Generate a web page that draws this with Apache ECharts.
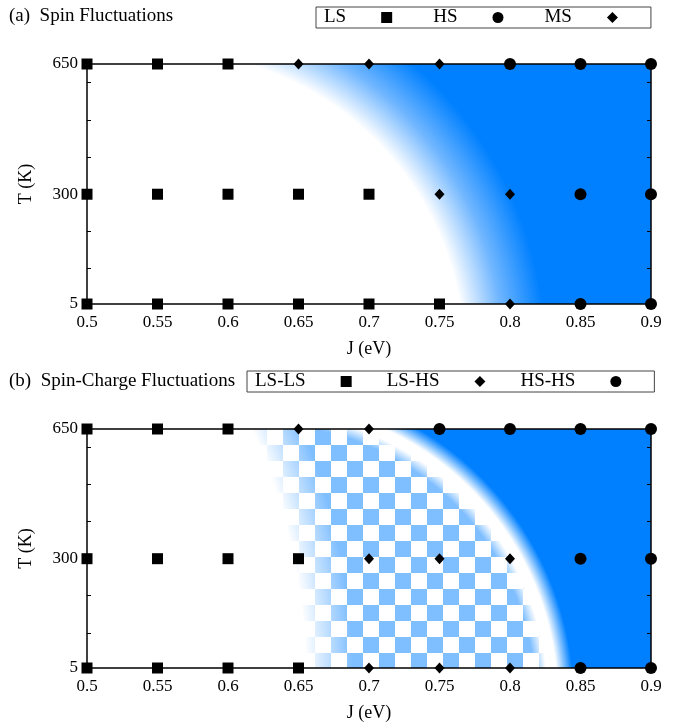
<!DOCTYPE html>
<html>
<head>
<meta charset="utf-8">
<script src="https://cdn.jsdelivr.net/npm/echarts@6.0.0/dist/echarts.min.js"></script>
<style>
  html, body { margin: 0; padding: 0; background: #fff; }
  #main { width: 678px; height: 728px; }
</style>
</head>
<body>
<div id="main"></div>
<script>
// axes
const jTicks = [0.5, 0.55, 0.6, 0.65, 0.7, 0.75, 0.8, 0.85, 0.9];
const tLabels = [5, 300, 650];
const tTicks = [100, 200, 300, 400, 500, 600];

// (a) spin fluctuations, [J, T]
const spinLS = [[0.5, 5], [0.55, 5], [0.6, 5], [0.65, 5], [0.7, 5], [0.75, 5],
  [0.5, 300], [0.55, 300], [0.6, 300], [0.65, 300], [0.7, 300],
  [0.5, 650], [0.55, 650], [0.6, 650]];
const spinHS = [[0.85, 5], [0.9, 5], [0.85, 300], [0.9, 300], [0.8, 650], [0.85, 650], [0.9, 650]];
const spinMS = [[0.8, 5], [0.75, 300], [0.8, 300], [0.65, 650], [0.7, 650], [0.75, 650]];

// (b) spin-charge fluctuations
const chargeLSLS = [[0.5, 5], [0.55, 5], [0.6, 5], [0.65, 5],
  [0.5, 300], [0.55, 300], [0.6, 300], [0.65, 300],
  [0.5, 650], [0.55, 650], [0.6, 650]];
const chargeLSHS = [[0.7, 5], [0.75, 5], [0.8, 5], [0.7, 300], [0.75, 300], [0.8, 300], [0.65, 650], [0.7, 650]];
const chargeHSHS = [[0.85, 5], [0.9, 5], [0.85, 300], [0.9, 300], [0.75, 650], [0.8, 650], [0.85, 650], [0.9, 650]];

// shaded phase regions: centre J, centre T, then edge radii (in J units)
const spinHSRegion = [0.5532, -129, 0.214, 0.242, 0.272];
const chargeHSRegion = [0.6227, -80, 0.1956, 0.2041, 0.2112, 0.2225];
const chargeLSRegion = [0.2035, -45, 0.452, 0.485];

const serif = 'Liberation Serif';
const blue = '#0080ff';
const chart = echarts.init(document.getElementById('main'));

// checkerboard tile, phase given in pixels
function checkerTile(ox, oy) {
  const s = 16, p = 2 * s;
  const c = document.createElement('canvas');
  c.width = c.height = p;
  const ctx = c.getContext('2d');
  ctx.fillStyle = '#80bfff';
  [[0, 0], [s, s]].forEach(function (d) {
    const x = (((ox + d[0]) % p) + p) % p;
    const y = (((oy + d[1]) % p) + p) % p;
    [0, -p].forEach(function (dx) {
      [0, -p].forEach(function (dy) { ctx.fillRect(x + dx, y + dy, s, s); });
    });
  });
  return c;
}

function radialRect(params, api, stops, z2) {
  const cs = params.coordSys;
  const c = api.coord([api.value(0), api.value(1)]);
  const rMax = api.size([api.value(stops.length + 1), 0])[0];
  return {
    type: 'rect', z2: z2,
    shape: { x: cs.x, y: cs.y, width: cs.width, height: cs.height },
    style: {
      fill: {
        type: 'radial', x: c[0], y: c[1], r: rMax, global: true,
        colorStops: stops.map(function (col, i) {
          return { offset: api.size([api.value(i + 2), 0])[0] / rMax, color: col };
        })
      }
    }
  };
}

function xAxes(gridIndex) {
  const line = { lineStyle: { color: '#000', width: 1.5 } };
  const tick = { inside: true, length: 4, customValues: jTicks, lineStyle: { color: '#000' } };
  return [{
    type: 'value', gridIndex: gridIndex, position: 'bottom', min: 0.5, max: 0.9, z: 4,
    name: 'J (eV)', nameLocation: 'middle', nameGap: 36,
    nameTextStyle: { fontFamily: serif, fontSize: 18, color: '#000' },
    axisLine: line, axisTick: tick, splitLine: { show: false },
    axisLabel: { customValues: jTicks, margin: 10, fontFamily: serif, fontSize: 17, color: '#000' }
  }, {
    type: 'value', gridIndex: gridIndex, position: 'top', min: 0.5, max: 0.9, z: 4,
    axisLine: line, axisTick: tick, splitLine: { show: false }, axisLabel: { show: false }
  }];
}

function yAxes(gridIndex) {
  const line = { lineStyle: { color: '#000', width: 1.5 } };
  const tick = { inside: true, length: 4, customValues: tTicks, lineStyle: { color: '#000' } };
  return [{
    type: 'value', gridIndex: gridIndex, position: 'left', min: 5, max: 650, z: 4,
    name: 'T (K)', nameLocation: 'middle', nameGap: 52,
    nameTextStyle: { fontFamily: serif, fontSize: 18, color: '#000' },
    axisLine: line, axisTick: tick, splitLine: { show: false },
    axisLabel: { customValues: tLabels, margin: 9, fontFamily: serif, fontSize: 17, color: '#000' }
  }, {
    type: 'value', gridIndex: gridIndex, position: 'right', min: 5, max: 650, z: 4,
    axisLine: line, axisTick: tick, splitLine: { show: false }, axisLabel: { show: false }
  }];
}

function marks(name, data, axis, symbol, size) {
  return {
    name: name, type: 'scatter', xAxisIndex: axis, yAxisIndex: axis, data: data,
    symbol: symbol, symbolSize: size, clip: false, silent: true, z: 5,
    itemStyle: { color: '#000', opacity: 1 }
  };
}

function legend(names, left, top, gap) {
  return {
    data: names, left: left, top: top, align: 'right', orient: 'horizontal',
    itemWidth: 11, itemHeight: 11, itemGap: gap,
    padding: [1, 33, 1, 8], borderColor: '#444', borderWidth: 1,
    textStyle: { fontFamily: serif, fontSize: 19, color: '#000', padding: [0, 30, 0, 0] },
    selectedMode: false
  };
}

const titleStyle = { fontFamily: serif, fontSize: 19, fontWeight: 'normal', color: '#000' };

chart.setOption({
  animation: false,
  title: [
    { text: '(a)  Spin Fluctuations', left: 9, top: 7, padding: 0, textStyle: titleStyle },
    { text: '(b)  Spin-Charge Fluctuations', left: 9, top: 372, padding: 0, textStyle: titleStyle }
  ],
  legend: [
    legend(['LS', 'HS', 'MS'], 316, 7, 41),
    legend(['LS-LS', 'LS-HS', 'HS-HS'], 247, 371, 35)
  ],
  grid: [
    { left: 87, top: 64, width: 564, height: 240 },
    { left: 87, top: 429, width: 564, height: 239 }
  ],
  xAxis: xAxes(0).concat(xAxes(1)),
  yAxis: yAxes(0).concat(yAxes(1)),
  series: [
    {
      type: 'custom', xAxisIndex: 0, yAxisIndex: 0, data: [spinHSRegion], z: 1, silent: true,
      renderItem: function (params, api) {
        return radialRect(params, api, ['#ffffff', '#70b6ff', blue], 0);
      }
    },
    {
      type: 'custom', xAxisIndex: 2, yAxisIndex: 2, data: [chargeHSRegion], z: 1, silent: true,
      renderItem: function (params, api) {
        return radialRect(params, api,
          ['rgba(255,255,255,0)', '#ffffff', '#ffffff', blue], 1);
      }
    },
    {
      type: 'custom', xAxisIndex: 2, yAxisIndex: 2, data: [chargeLSRegion], z: 1, silent: true,
      renderItem: function (params, api) {
        const cs = params.coordSys;
        const tile = checkerTile(Math.round(cs.x + 228), Math.round(cs.y));
        return {
          type: 'group',
          children: [{
            type: 'rect', z2: 0,
            shape: { x: cs.x, y: cs.y, width: cs.width, height: cs.height },
            style: { fill: { image: tile, repeat: 'repeat' } }
          }, radialRect(params, api, ['#ffffff', 'rgba(255,255,255,0)'], 2)]
        };
      }
    },
    marks('LS', spinLS, 0, 'rect', 11),
    marks('HS', spinHS, 0, 'circle', 12),
    marks('MS', spinMS, 0, 'diamond', [10, 11]),
    marks('LS-LS', chargeLSLS, 2, 'rect', 11),
    marks('LS-HS', chargeLSHS, 2, 'diamond', [10, 11]),
    marks('HS-HS', chargeHSHS, 2, 'circle', 12)
  ]
});
</script>
</body>
</html>
